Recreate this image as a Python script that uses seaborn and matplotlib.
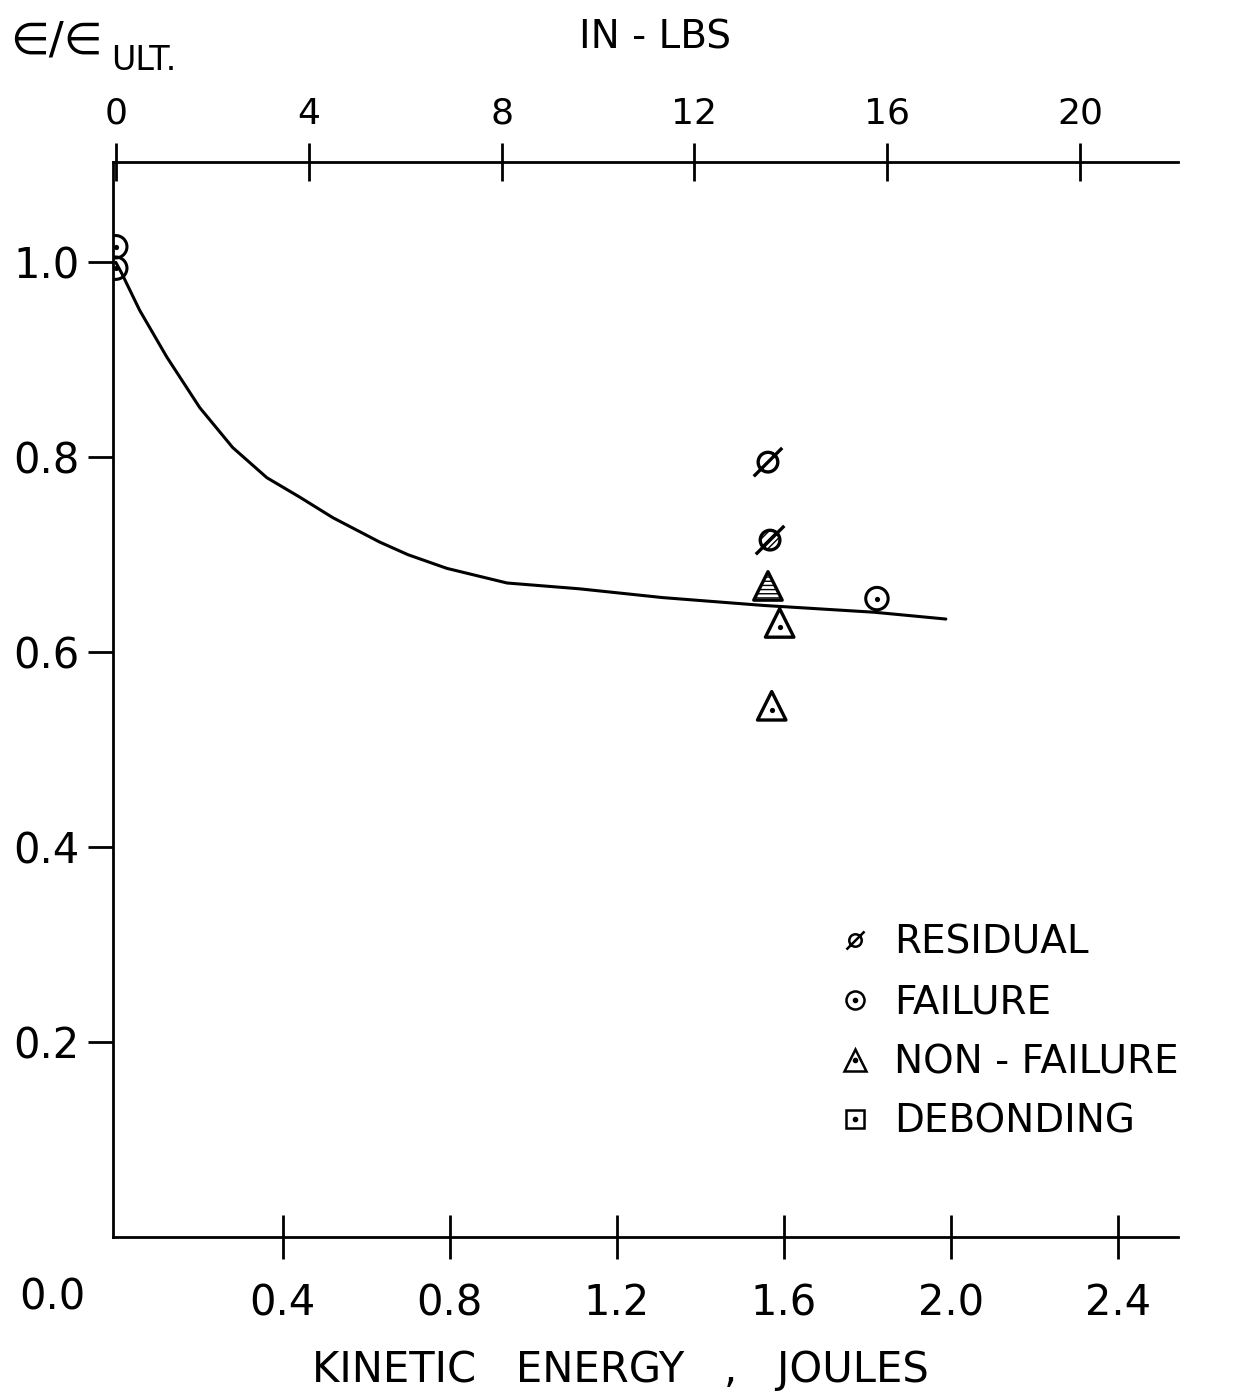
import numpy as np
import pandas as pd
import matplotlib
matplotlib.use("Agg")
import matplotlib.pyplot as plt
import seaborn as sns
from matplotlib.path import Path
from matplotlib.lines import Line2D

# ==================== Data ==================== #
# fitted curve (joules, strain ratio)
curve_x = [0.0, 0.014, 0.057, 0.122, 0.201, 0.280, 0.362, 0.441, 0.520, 0.632,
           0.700, 0.793, 0.937, 1.111, 1.310, 1.550, 1.816, 1.988]
curve_y = [1.0, 0.989, 0.951, 0.903, 0.851, 0.810, 0.779, 0.759, 0.738, 0.713,
           0.700, 0.686, 0.671, 0.665, 0.656, 0.648, 0.641, 0.634]

residual_x = [1.562]
residual_y = [0.795]
residual_hatched_x = [1.567]
residual_hatched_y = [0.715]

failure_x = [0.0, 0.0, 1.823]
failure_y = [1.016, 0.994, 0.655]

nonfail_x = [1.590, 1.571]
nonfail_y = [0.630, 0.545]
nonfail_hatched_x = [1.562]
nonfail_hatched_y = [0.668]

legend_labels = ["RESIDUAL", "FAILURE", "NON - FAILURE", "DEBONDING"]
x_ticks = [0.4, 0.8, 1.2, 1.6, 2.0, 2.4]
y_ticks = [0.2, 0.4, 0.6, 0.8, 1.0]
top_ticks = [0, 4, 8, 12, 16, 20]
J_PER_INLB = 0.1155  # as drawn on the sheet

# ==================== Style ==================== #
sns.set_style("white")
plt.rcParams['font.family'] = ['DejaVu Sans']
plt.rcParams['text.color'] = 'black'
plt.rcParams['xtick.color'] = 'black'
plt.rcParams['ytick.color'] = 'black'
FS = 30

# circle with a slash through it
slashed = Path.make_compound_path(
    Path.unit_circle(),
    Path([(-1.45, -1.45), (1.45, 1.45)], [Path.MOVETO, Path.LINETO]))

fig = plt.figure(figsize=(12.4, 13.95), dpi=100)
ax = fig.add_axes([0.091, 0.1133, 0.859, 0.7706])

# ==================== Plot ==================== #
sns.lineplot(x=curve_x, y=curve_y, ax=ax, color="black", lw=2.2, sort=False)

sns.scatterplot(x=residual_x, y=residual_y, ax=ax, marker=slashed, s=420,
                facecolor="none", edgecolor="black", linewidth=2.4)
ax.scatter(residual_hatched_x, residual_hatched_y, marker=slashed, s=420,
           facecolor="none", edgecolor="black", linewidth=2.4, hatch="////")

sns.scatterplot(x=failure_x, y=failure_y, ax=ax, marker="o", s=260,
                facecolor="none", edgecolor="black", linewidth=2.2)
sns.scatterplot(x=failure_x, y=failure_y, ax=ax, marker="o", s=14,
                color="black", linewidth=0)

sns.scatterplot(x=nonfail_x, y=nonfail_y, ax=ax, marker="^", s=420,
                facecolor="none", edgecolor="black", linewidth=2.4)
sns.scatterplot(x=nonfail_x, y=[v - 0.004 for v in nonfail_y], ax=ax, marker="o",
                s=14, color="black", linewidth=0)
ax.scatter(nonfail_hatched_x, nonfail_hatched_y, marker="^", s=420,
           facecolor="none", edgecolor="black", linewidth=2.4, hatch="----")

ax.set_xlim(-0.007, 2.544)
ax.set_ylim(0, 1.103)

ax.set_xticks(x_ticks)
ax.set_xticklabels(["{:.1f}".format(v) for v in x_ticks], fontsize=FS)
ax.set_yticks(y_ticks)
ax.set_yticklabels(["{:.1f}".format(v) for v in y_ticks], fontsize=FS)
ax.tick_params(axis="x", bottom=True, direction="inout", length=31, width=2, pad=17)
ax.tick_params(axis="y", left=True, direction="out", length=18, width=2, pad=6)

for side in ["left", "bottom", "top"]:
    ax.spines[side].set_color("black")
    ax.spines[side].set_linewidth(2)
ax.spines["right"].set_visible(False)

top = ax.secondary_xaxis("top", functions=(lambda j: j / J_PER_INLB,
                                           lambda e: e * J_PER_INLB))
top.set_xticks(top_ticks)
top.set_xticklabels([str(t) for t in top_ticks], fontsize=26)
top.tick_params(top=True, direction="inout", length=27, width=2, pad=9)
top.spines["top"].set_visible(False)

# ==================== Labels ==================== #
fig.text(0.042, 0.070, "0.0", fontsize=FS, ha="center", va="center")
fig.text(0.50, 0.018, "KINETIC   ENERGY   ,   JOULES", fontsize=30, ha="center", va="center")
fig.text(0.528, 0.973, "IN - LBS", fontsize=28, ha="center", va="center")
fig.text(0.008, 0.962, "\u2208/\u2208", fontsize=32, ha="left", va="baseline")
fig.text(0.090, 0.950, "ULT.", fontsize=24, ha="left", va="baseline")

dot = dict(ls="none", marker="o", ms=3, color="black")
handles = [
    Line2D([], [], ls="none", marker=slashed, ms=13, mfc="none", mec="black", mew=1.8),
    (Line2D([], [], ls="none", marker="o", ms=13, mfc="none", mec="black", mew=1.8),
     Line2D([], [], **dot)),
    (Line2D([], [], ls="none", marker="^", ms=16, mfc="none", mec="black", mew=1.8),
     Line2D([], [], **dot)),
    (Line2D([], [], ls="none", marker="s", ms=13, mfc="none", mec="black", mew=1.8),
     Line2D([], [], **dot)),
]
leg = ax.legend(handles, legend_labels, loc="upper left", bbox_to_anchor=(0.668, 0.306),
                frameon=False, fontsize=28, handlelength=0.8, handletextpad=0.6,
                labelspacing=0.56, borderaxespad=0)

plt.savefig("out.png", dpi=100)
